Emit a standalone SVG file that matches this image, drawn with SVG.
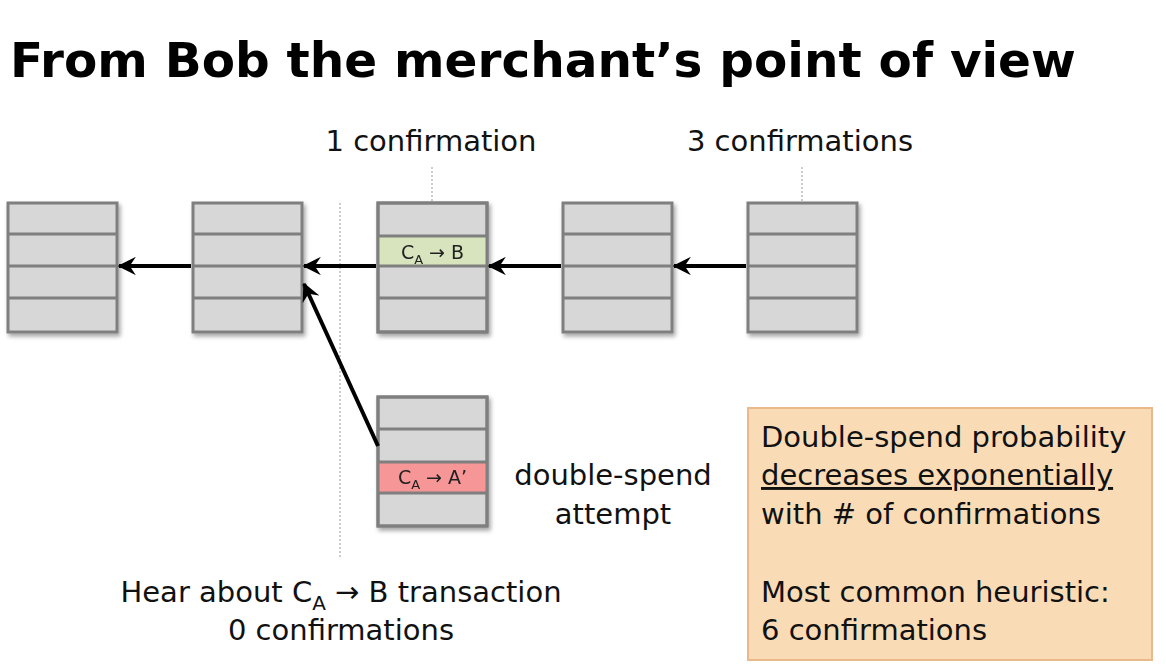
<svg xmlns="http://www.w3.org/2000/svg" width="1166" height="672" viewBox="0 0 1166 672">
<defs>
<style>
.blk{fill:#d7d7d7;stroke:#7f7f7f;stroke-width:3}
.row{stroke:#7f7f7f;stroke-width:3}
.t{font-family:"DejaVu Sans",sans-serif;font-size:29px;fill:#111}
.s{font-family:"DejaVu Sans",sans-serif;font-size:19px;fill:#222}
.arr{stroke:#000;stroke-width:4;fill:none;marker-end:url(#ah)}
.dot{stroke:#aaa;stroke-width:1.2;stroke-dasharray:2 2;fill:none}
</style>
<marker id="ah" viewBox="0 0 12 12" refX="11" refY="6" markerWidth="4.6" markerHeight="4.6" orient="auto" markerUnits="strokeWidth">
<path d="M0,0 L12,6 L0,12 L4,6 z" fill="#000"/>
</marker>
<filter id="sh" x="-10%" y="-10%" width="130%" height="130%">
<feDropShadow dx="2" dy="3" stdDeviation="2" flood-color="#000" flood-opacity="0.35"/>
</filter>
</defs>
<rect width="1166" height="672" fill="#fff"/>
<text x="10" y="77" font-family="DejaVu Sans,sans-serif" font-weight="bold" font-size="48.5" fill="#000">From Bob the merchant’s point of view</text>

<g id="guides">
<line class="dot" x1="340" y1="203" x2="340" y2="558"/>
<line class="dot" x1="432" y1="167" x2="432" y2="236"/>
<line class="dot" x1="802" y1="167" x2="802" y2="202"/>
</g>

<g id="block1" filter="url(#sh)">
<rect class="blk" x="8" y="203" width="109" height="129"/>
<line class="row" x1="8" y1="234" x2="117" y2="234"/>
<line class="row" x1="8" y1="266" x2="117" y2="266"/>
<line class="row" x1="8" y1="298" x2="117" y2="298"/>
</g>
<g id="block2" filter="url(#sh)">
<rect class="blk" x="193" y="203" width="109" height="129"/>
<line class="row" x1="193" y1="234" x2="302" y2="234"/>
<line class="row" x1="193" y1="266" x2="302" y2="266"/>
<line class="row" x1="193" y1="298" x2="302" y2="298"/>
</g>
<g id="block3" filter="url(#sh)">
<rect class="blk" x="378" y="203" width="109" height="129"/>
<rect x="378" y="236" width="109" height="30" fill="#d7e4bd"/>
<line class="row" x1="378" y1="236" x2="487" y2="236"/>
<line class="row" x1="378" y1="266" x2="487" y2="266"/>
<line class="row" x1="378" y1="298" x2="487" y2="298"/>
<rect x="378" y="203" width="109" height="129" fill="none" stroke="#7f7f7f" stroke-width="3"/>
<text class="s" x="432.5" y="259" text-anchor="middle">C<tspan font-size="13" dy="5">A</tspan><tspan dy="-5"> → B</tspan></text>
</g>
<g id="block4" filter="url(#sh)">
<rect class="blk" x="563" y="203" width="109" height="129"/>
<line class="row" x1="563" y1="234" x2="672" y2="234"/>
<line class="row" x1="563" y1="266" x2="672" y2="266"/>
<line class="row" x1="563" y1="298" x2="672" y2="298"/>
</g>
<g id="block5" filter="url(#sh)">
<rect class="blk" x="748" y="203" width="109" height="129"/>
<line class="row" x1="748" y1="234" x2="857" y2="234"/>
<line class="row" x1="748" y1="266" x2="857" y2="266"/>
<line class="row" x1="748" y1="298" x2="857" y2="298"/>
</g>
<g id="fork" filter="url(#sh)">
<rect class="blk" x="378" y="397" width="109" height="129"/>
<rect x="378" y="462" width="109" height="30" fill="#f79696"/>
<line class="row" x1="378" y1="429" x2="487" y2="429"/>
<line class="row" x1="378" y1="462" x2="487" y2="462"/>
<line class="row" x1="378" y1="493" x2="487" y2="493"/>
<rect x="378" y="397" width="109" height="129" fill="none" stroke="#7f7f7f" stroke-width="3"/>
<text class="s" x="432.5" y="484" text-anchor="middle">C<tspan font-size="13" dy="5">A</tspan><tspan dy="-5"> → A’</tspan></text>
</g>

<g id="connectors">
<line class="arr" x1="191" y1="266" x2="119" y2="266"/>
<line class="arr" x1="376" y1="266" x2="304" y2="266"/>
<line class="arr" x1="561" y1="266" x2="489" y2="266"/>
<line class="arr" x1="746" y1="266" x2="674" y2="266"/>
<line class="arr" x1="378" y1="446" x2="304" y2="284"/>
</g>

<g id="labels">
<text class="t" x="431" y="151" text-anchor="middle">1 confirmation</text>
<text class="t" x="800" y="151" text-anchor="middle">3 confirmations</text>
<text class="t" x="613" y="485" text-anchor="middle">double-spend</text>
<text class="t" x="613" y="524" text-anchor="middle">attempt</text>
<text class="t" x="341" y="602" text-anchor="middle">Hear about C<tspan font-size="20" dy="8">A</tspan><tspan dy="-8"> → B transaction</tspan></text>
<text class="t" x="341" y="640" text-anchor="middle">0 confirmations</text>
</g>

<g id="note">
<rect x="748" y="408" width="404" height="252" fill="#f9dcb6" stroke="#eab98a" stroke-width="2"/>
<text class="t" x="761" y="447">Double-spend probability</text>
<text class="t" x="761" y="485" text-decoration="underline">decreases exponentially</text>
<text class="t" x="761" y="524">with # of confirmations</text>
<text class="t" x="761" y="602">Most common heuristic:</text>
<text class="t" x="761" y="640">6 confirmations</text>
</g>
</svg>
